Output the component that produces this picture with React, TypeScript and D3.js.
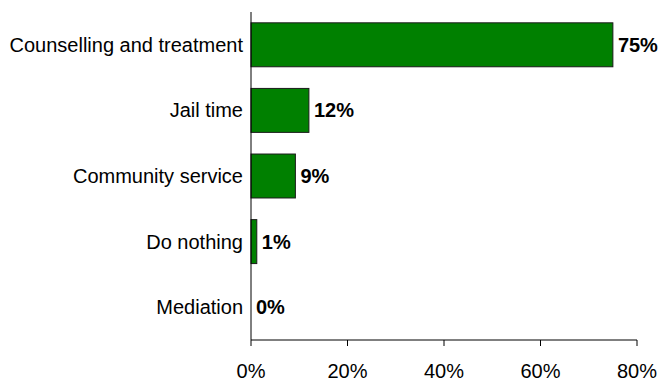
import React from "react";
import * as d3 from "d3";

const categories = ["Counselling and treatment", "Jail time", "Community service", "Do nothing", "Mediation"];
const values = [75, 12, 9.2, 1.2, 0];
const valueLabels = ["75%", "12%", "9%", "1%", "0%"];
const ticks = [0, 20, 40, 60, 80];

export default function App() {
  const W = 662, H = 381;
  const x = d3.scaleLinear().domain([0, 80]).range([251, 637]);
  const y = d3.scaleBand().domain(categories).range([12, 340]).paddingInner(0.33).paddingOuter(0.165);
  const font = "Arial, 'Liberation Sans', sans-serif";
  return (
    <svg width={W} height={H} style={{ position: "absolute", left: 0, top: 0 }} fontFamily={font}>
      <rect width={W} height={H} fill="#fff" />
      {categories.map((c, i) => (
        <g key={c}>
          {values[i] > 0 && (
            <rect x={x(0)} y={y(c)!} width={x(values[i]) - x(0)} height={y.bandwidth()} fill="#008000" stroke="#1a1a1a" strokeWidth={1} />
          )}
          <text x={x(0) - 8} y={y(c)! + y.bandwidth() / 2} dy="0.35em" textAnchor="end" fontSize={20} fill="#000">{c}</text>
          <text x={x(values[i]) + 5} y={y(c)! + y.bandwidth() / 2} dy="0.35em" fontSize={20} fontWeight="bold" fill="#000">{valueLabels[i]}</text>
        </g>
      ))}
      <line x1={x(0)} x2={x(0)} y1={12} y2={340} stroke="#000" />
      <line x1={x(0)} x2={x(80)} y1={340} y2={340} stroke="#000" />
      {ticks.map(t => (
        <g key={t}>
          <line x1={x(t)} x2={x(t)} y1={340} y2={346} stroke="#000" />
          <text x={x(t)} y={378} textAnchor="middle" fontSize={20} fill="#000">{t + "%"}</text>
        </g>
      ))}
    </svg>
  );
}
